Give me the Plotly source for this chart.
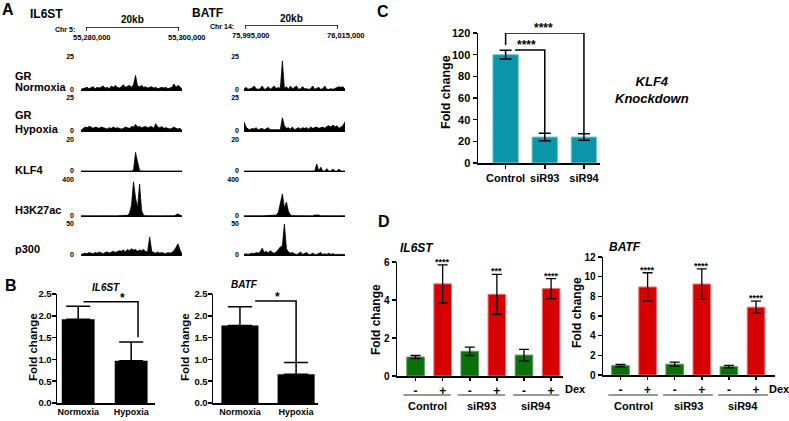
import plotly.graph_objects as go

W, H = 789, 421
F = "Liberation Sans, Arial, sans-serif"

# ---------------- data ----------------
track_labels = [["GR", "Normoxia"], ["GR", "Hypoxia"], ["KLF4"], ["H3K27ac"], ["p300"]]
track_max = [25, 25, 20, 400, 50]
track_max_text = ["25", "25", "20", "400", "50"]
bins = list(range(51))

il6st_gr_norm = [0.5,1,1,2,1,1.5,2.5,1,2,1.5, 2,3,1.5,2,1,3,2,3.5,2,1.5, 2.5,4,2,3,3.5,2,4,11,3,2.5,
                 3.5,2,2.5,1.5,2,2.5,1.5,2,1,1.5, 2,1.5,2,1,1.5,2,4.5,2,3.5,2.5,0.5]
il6st_gr_hyp = [0.5,2,3,2.5,3.5,3,2,3,2.5,2, 3,2.5,2,1.5,2.5,2,3,2,2.5,2, 1.5,2,3,2.5,2,3.5,3,5,3,3.5,
                2.5,3,3.5,2.5,3,3.5,2,5.5,3,2.5, 3.5,2,2.5,2,1.5,2,3,2,1.5,2,0.5]
il6st_klf4 = [0,0,0,0,0,0,0,0,0,0, 0,0,0,0,0,0,0,0,0,0, 0,0,0,0,0,0,0.5,12,6,0.3,
              0,0,0,0,0,0,0,0,0,0, 0,0,0,0,0,0,0,0,0,0,0]
il6st_h3k27ac = [3,2,3,2,3,2,3,2,2,3, 2,3,2,2,3,2,3,2,3,3, 2,3,4,8,30,120,380,200,90,355,
                 60,8,3,2,3,2,3,2,2,3, 2,2,3,2,3,2,3,10,25,8,2]
il6st_p300 = [1,2,3,2,4,3,2,4,3,5, 3,2,4,5,3,4,6,4,5,7, 6,8,5,9,7,10,8,9,6,8,
              7,9,5,6,29,6,4,3,5,3, 4,3,2,4,3,4,7,12,18,8,2]

batf_gr_norm = [0.5,2,0.5,1,1.5,3,1,0.5,1,3, 0.5,1,2.5,0.5,2,3,1,2,1,22, 1,2.5,0.5,3,1,2,3,0.5,1,2.5,
                1,1,0.5,1,3,0.5,1,2,0.5,1, 3,0.5,0.5,1,0.5,1,2,2.5,2,2.5,0.5]
batf_gr_hyp = [7,3,1.5,1,2,1.5,2.5,1,1.5,2, 1,1.5,2.5,1,1,1,1,1.5,1,10, 4,2,2.5,1.5,3,1,2,2.5,1.5,2.5,
               2,2.5,1.5,3,2,2.5,3,2,2.5,3, 2,3.5,4,3,4.5,3,4,2,3,4,7]
batf_klf4 = [0,0,0,0,0,0,0,0,0,0, 0,0,0,0,0,0,0,0,0,0, 0,0,0,0,0,0,0,0,0,0,
             0,0,0,0,0,0,4.5,0,2.5,0, 0,1.5,0,0,1.3,0,0,1.3,0,0,0]
batf_h3k27ac = [2,3,2,2,3,2,3,2,3,2, 3,2,3,2,3,4,10,40,130,245, 90,155,50,10,4,3,2,3,2,3,
                2,3,2,3,2,12,15,10,3,2, 3,2,3,2,3,2,3,2,3,2,2]
batf_p300 = [1,2,1,2,3,2,4,3,5,11, 4,6,3,7,4,3,5,9,13,15, 50,10,5,3,4,2,1,2,5,1,
             2,4,1,1,3,1,1,2,4,1, 2,1,3,1,2,1,1,2,1,1,0.5]

il6st_tracks = [il6st_gr_norm, il6st_gr_hyp, il6st_klf4, il6st_h3k27ac, il6st_p300]
batf_tracks = [batf_gr_norm, batf_gr_hyp, batf_klf4, batf_h3k27ac, batf_p300]

il6st_region = [55280000, 55300000]
batf_region = [75995000, 76015000]
il6st_region_text = ["55,280,000", "55,300,000"]
batf_region_text = ["75,995,000", "76,015,000"]

# panel B
b_cats = ["Normoxia", "Hypoxia"]
b_il6st = [1.92, 0.97]
b_il6st_err = [0.30, 0.43]
b_batf = [1.78, 0.66]
b_batf_err = [0.43, 0.27]

# panel C
c_cats = ["Control", "siR93", "siR94"]
c_vals = [100, 24, 24]
c_err = [4, 3.5, 3]

# panel D
d_groups = ["Control", "siR93", "siR94"]
d_dex = ["-", "+", "-", "+", "-", "+"]
d_il6st = [1.0, 4.85, 1.3, 4.3, 1.1, 4.6]
d_il6st_err = [0.08, 1.0, 0.22, 1.05, 0.3, 0.53]
d_il6st_sig = ["", "****", "", "***", "", "****"]
d_batf = [0.95, 8.95, 1.1, 9.25, 0.85, 6.9]
d_batf_err = [0.12, 1.45, 0.2, 1.55, 0.12, 0.62]
d_batf_sig = ["", "****", "", "****", "", "****"]

# ---------------- helpers ----------------
def px(x):
    return x / W

def py(y):
    return 1 - y / H

layout = dict(width=W, height=H, margin=dict(l=0, r=0, t=0, b=0), template="none",
              paper_bgcolor="white", plot_bgcolor="white", showlegend=False,
              font=dict(family=F, color="black"), annotations=[], shapes=[])
fig = go.Figure()
_n = [0]

def new_axes(xpx, ypx, xr, yr, xo=None, yo=None):
    _n[0] += 1
    n = _n[0]
    sfx = "" if n == 1 else str(n)
    xa = dict(domain=[px(xpx[0]), px(xpx[1])], range=xr, anchor="y" + sfx,
              showgrid=False, zeroline=False, visible=True, showline=False,
              showticklabels=False, ticks="", fixedrange=True, color="black")
    ya = dict(domain=[py(ypx[1]), py(ypx[0])], range=yr, anchor="x" + sfx,
              showgrid=False, zeroline=False, showline=False,
              showticklabels=False, ticks="", fixedrange=True, color="black")
    if xo:
        xa.update(xo)
    if yo:
        ya.update(yo)
    layout["xaxis" + sfx] = xa
    layout["yaxis" + sfx] = ya
    return "x" + sfx, "y" + sfx

def ann(text, x, y, size, xanchor="center", yanchor="middle", bold=True, italic=False,
        angle=0, xref="paper", yref="paper"):
    xx = px(x) if xref == "paper" else x
    yy = py(y) if yref == "paper" else y
    layout["annotations"].append(dict(
        text=text, x=xx, y=yy, xref=xref, yref=yref, xanchor=xanchor, yanchor=yanchor,
        showarrow=False, textangle=angle,
        font=dict(family=F, size=size, color="black",
                  weight="bold" if bold else "normal",
                  style="italic" if italic else "normal")))

tickf = lambda s: dict(family=F, size=s, color="black", weight="bold")

# ---------------- panel A ----------------
ann("A", 8, 10, 16)
ann("IL6ST", 28, 14, 12, xanchor="left")
ann("BATF", 190, 13, 12, xanchor="left")

rows = [(57, 90), (98, 131), (140, 171), (180, 216), (224, 255)]
label_rows = [[76, 87], [115, 129], [170], [210], [249]]
for labs, ys in zip(track_labels, label_rows):
    for t, yy in zip(labs, ys):
        ann(t, 13, yy, 11, xanchor="left")

for xpx, tracks, so in (((81, 182), il6st_tracks, 6), ((244, 345), batf_tracks, 4)):
    for k, (top, base) in enumerate(rows):
        xr_, yr_ = new_axes(xpx, (top, base), [0, 50], [0, track_max[k]],
                            xo=dict(showline=True, linecolor="black", linewidth=1.3),
                            yo=dict(showticklabels=True, tickvals=[0, track_max[k]],
                                    ticktext=["0", track_max_text[k]], tickfont=tickf(7),
                                    ticklabelstandoff=so))
        fig.add_trace(go.Scatter(x=bins, y=tracks[k], xaxis=xr_, yaxis=yr_, mode="lines",
                                 fill="tozeroy", fillcolor="black",
                                 line=dict(color="black", width=0.8), hoverinfo="skip"))

# scale bars (20 kb)
for (x0, x1), (y0, y1), region, rtext, chr_t, kb_y, lab_y in (
        ((86, 179), (27, 31), il6st_region, il6st_region_text, "Chr 5:", 19, 38),
        ((245, 338), (25, 29), batf_region, batf_region_text, "Chr 14:", 18, 35)):
    xr_, yr_ = new_axes((x0, x1), (y0, y1), region, [0, 1])
    fig.add_trace(go.Scatter(x=[region[0], region[0], region[1], region[1]], y=[0, 1, 1, 0],
                             xaxis=xr_, yaxis=yr_, mode="lines", cliponaxis=False,
                             line=dict(color="black", width=1.5), hoverinfo="skip"))
    ann("20kb", (x0 + x1) / 2, kb_y, 10)
    ann(chr_t, x0 - 9, y0 + 2, 7, xanchor="right")
    ann(rtext[0], x0 + 6, lab_y, 7.5)
    ann(rtext[1], x1 + 8, lab_y, 7.5)

# ---------------- panel B ----------------
ann("B", 11, 285, 16)

def bar_axes(xpx, ypx, xr, yr, dtick, fmt, tfs, cats_vals, cats_text, xticks="", xlen=0,
             standoff=None, ystandoff=0):
    xo = dict(showline=True, linecolor="black", linewidth=1.5, showticklabels=True,
              tickvals=cats_vals, ticktext=cats_text, tickfont=tickf(tfs[1]),
              ticks=xticks, ticklen=xlen, tickwidth=1.5, tickcolor="black")
    if standoff is not None:
        xo["ticklabelstandoff"] = standoff
    yo = dict(showline=True, linecolor="black", linewidth=1.5, showticklabels=True,
              ticks="outside", ticklen=4, tickwidth=1.5, tickcolor="black",
              dtick=dtick, tick0=0, tickformat=fmt, tickfont=tickf(tfs[0]),
              ticklabelstandoff=ystandoff)
    return new_axes(xpx, ypx, xr, yr, xo=xo, yo=yo)

# IL6ST (B)
xb1, yb1 = bar_axes((57, 155), (294, 403), [-0.40, 1.45], [0, 2.5], 0.5, ".1f", (9.5, 9),
                    [0, 1], b_cats, ystandoff=-2)
fig.add_trace(go.Bar(x=[0, 1], y=b_il6st, xaxis=xb1, yaxis=yb1, width=0.62,
                     marker=dict(color="black", line=dict(width=0)),
                     error_y=dict(type="data", array=b_il6st_err, arrayminus=[0, 0],
                                  symmetric=False, color="black", thickness=1.5, width=12)))
fig.add_trace(go.Scatter(x=[0.1, 1.13, 1.13], y=[2.32, 2.32, 1.51], xaxis=xb1, yaxis=yb1,
                         mode="lines", line=dict(color="black", width=1.5), cliponaxis=False))
ann("*", 122, 298, 12)
ann("IL6ST", 106, 287, 10, italic=True)
ann("Fold change", 33, 347, 11.5, angle=-90)

# BATF (B)
xb2, yb2 = bar_axes((213, 318), (294, 403), [-0.48, 1.39], [0, 2.5], 0.5, ".1f", (9.5, 9),
                    [0, 1], b_cats, ystandoff=-2)
fig.add_trace(go.Bar(x=[0, 1], y=b_batf, xaxis=xb2, yaxis=yb2, width=0.66,
                     marker=dict(color="black", line=dict(width=0)),
                     error_y=dict(type="data", array=b_batf_err, arrayminus=[0, 0],
                                  symmetric=False, color="black", thickness=1.5, width=12)))
fig.add_trace(go.Scatter(x=[0.27, 1.0, 1.0], y=[2.34, 2.34, 0.94], xaxis=xb2, yaxis=yb2,
                         mode="lines", line=dict(color="black", width=1.5), cliponaxis=False))
ann("*", 277, 297, 12)
ann("BATF", 244, 284, 10, italic=True)
ann("Fold change", 185, 347, 11.5, angle=-90)

# ---------------- panel C ----------------
ann("C", 383, 12, 16)
teal = "#0896A8"
xc, yc = bar_axes((478, 600), (33, 163), [-0.705, 2.41], [0, 120], 20, "d", (11, 11),
                  [0, 1, 2], c_cats, xticks="outside", xlen=4)
fig.add_trace(go.Bar(x=[0, 1, 2], y=c_vals, xaxis=xc, yaxis=yc, width=0.65,
                     marker=dict(color=teal, line=dict(color="#7cc8d2", width=1)),
                     error_y=dict(type="data", array=c_err, color="black", thickness=1.5,
                                  width=6)))
fig.add_trace(go.Scatter(x=[0, 0, 2, 2], y=[109, 120, 120, 27.7], xaxis=xc, yaxis=yc,
                         mode="lines", line=dict(color="black", width=1.5), cliponaxis=False))
fig.add_trace(go.Scatter(x=[0.24, 1, 1], y=[104.3, 104.3, 27.7], xaxis=xc, yaxis=yc,
                         mode="lines", line=dict(color="black", width=1.5), cliponaxis=False))
ann("****", 543, 28, 12)
ann("****", 526, 45, 12)
ann("Fold change", 446, 92, 12.5, angle=-90)
ann("KLF4<br>Knockdown", 613, 90, 13, xanchor="left", italic=True)

# ---------------- panel D ----------------
ann("D", 384, 221, 16)
green, red = "#0A700A", "#D60000"
gline, rline = "#5a9a5a", "#f07070"
d_colors = [green, red, green, red, green, red]
d_lines = [gline, rline, gline, rline, gline, rline]
d_x = [0, 1, 2, 3, 4, 5]

specs = [
    dict(xpx=(397, 563), ypx=(262, 376), xr=[-0.685, 5.44], yr=[0, 6], vals=d_il6st,
         err=d_il6st_err, sig=d_il6st_sig, title="IL6ST", tx=398, ty=248, ytx=376, yty=320,
         dex_x=563, glines=[[-0.45, 1.3], [1.55, 3.3], [3.6, 5.3]]),
    dict(xpx=(603, 775), ypx=(257, 375), xr=[-0.646, 5.70], yr=[0, 12], vals=d_batf,
         err=d_batf_err, sig=d_batf_sig, title="BATF", tx=607, ty=247, ytx=577, yty=313,
         dex_x=767, glines=[[-0.45, 1.38], [1.57, 3.41], [3.6, 5.44]]),
]
for s in specs:
    xd, yd = bar_axes(s["xpx"], s["ypx"], s["xr"], s["yr"], 2, "d", (10, 12), d_x, d_dex,
                      xticks="outside", xlen=3)
    fig.add_trace(go.Bar(x=d_x, y=s["vals"], xaxis=xd, yaxis=yd, width=0.65,
                         marker=dict(color=d_colors, line=dict(color=d_lines, width=1)),
                         error_y=dict(type="data", array=s["err"], color="black",
                                      thickness=1.3, width=5)))
    for xi, v, e, t in zip(d_x, s["vals"], s["err"], s["sig"]):
        if t:
            layout["annotations"].append(dict(
                text=t, x=xi, y=v + e, xref=xd, yref=yd, xanchor="center", yanchor="bottom",
                yshift=-4, showarrow=False, font=dict(family=F, size=9, color="black",
                                                      weight="bold")))
    ann(s["title"], s["tx"], s["ty"], 12, xanchor="left", italic=True)
    ann("Fold change", s["ytx"], s["yty"], 12, angle=-90)
    ann("Dex", s["dex_x"], 389, 11, xanchor="left")
    for (g0, g1), g in zip(s["glines"], d_groups):
        layout["shapes"].append(dict(type="line", xref=xd, yref="paper", x0=g0, x1=g1,
                                     y0=py(395), y1=py(395),
                                     line=dict(color="#333333", width=1)))
        layout["annotations"].append(dict(
            text=g, x=(g0 + g1) / 2, y=py(406), xref=xd, yref="paper", xanchor="center",
            yanchor="middle", showarrow=False,
            font=dict(family=F, size=11, color="black", weight="bold")))

fig.update_layout(**layout)
fig.write_html("out.html", config={"displayModeBar": False, "staticPlot": True},
               post_script="document.body.style.margin='0px';")
